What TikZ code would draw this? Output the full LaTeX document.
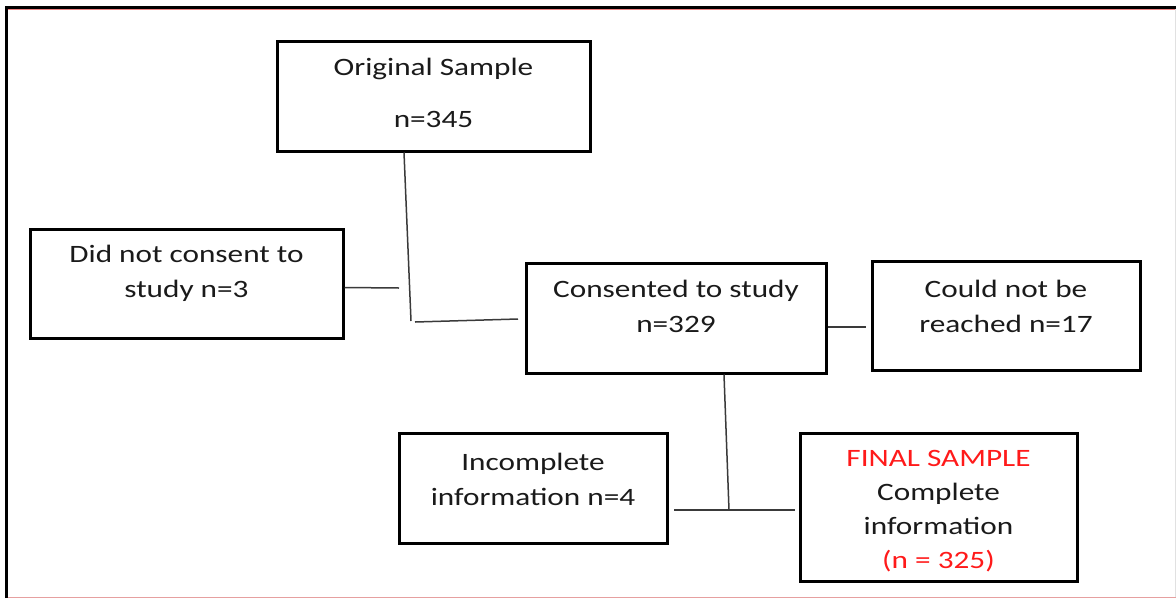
\documentclass[tikz,border=0pt]{standalone}
\usepackage{fontspec}
\setmainfont{Carlito}[FakeStretch=1.25]
\usetikzlibrary{calc}
\definecolor{txtc}{HTML}{1A1A1A}
\definecolor{linec}{HTML}{3A3A3A}
\definecolor{redc}{HTML}{FF1A1A}
\tikzset{
  box/.style={draw=black, line width=3pt, rectangle, inner sep=0pt},
  txt/.style={text=txtc, align=center, font=\fontsize{25}{35}\selectfont, inner sep=0pt},
  conn/.style={draw=linec, line width=1.5pt},
}
\begin{document}
\begin{tikzpicture}[x=1pt,y=-1pt]
\useasboundingbox (0,0) rectangle (1176,598);
% frame
\draw[black, line width=3pt] (6,598) -- (6,7) -- (1176,7);
\draw[color={rgb,255:red,240;green,130;blue,130}, line width=1pt] (7.5,9.5) -- (1176,9.5);
\draw[color={rgb,255:red,230;green,160;blue,160}, line width=1pt] (7.5,597) -- (1176,597);
\draw[color={rgb,255:red,225;green,225;blue,225}, line width=1pt] (1175,9) -- (1175,597);
% boxes
\node[box, minimum width=313pt, minimum height=110pt] (orig) at (433.5,96) {};
\node[box, minimum width=313pt, minimum height=109pt] (nocons) at (186.5,283.5) {};
\node[box, minimum width=300pt, minimum height=110pt] (cons) at (676,318) {};
\node[box, minimum width=268pt, minimum height=109pt] (reach) at (1006,315.5) {};
\node[box, minimum width=268pt, minimum height=110pt] (incomp) at (533,488) {};
\node[box, minimum width=277pt, minimum height=148pt] (final) at (938.5,507) {};
% texts
\node[txt] (t1a) at (433.5,69) {Original Sample};
\node[txt] (t1b) at (433.5,119) {n=345};
\node[txt] (t2) at (186.5,273) {Did not consent to\\study n=3};
\node[txt] (t3) at (676,306) {Consented to study\\n=329};
\node[txt] (t4) at (1006,306) {Could not be\\reached n=17};
\node[txt] (t5) at (533,479) {Incomplete\\information n=4};
\node[txt, font=\fontsize{25}{34}\selectfont] (t6) at (938.5,511) {\textcolor{redc}{FINAL SAMPLE}\\Complete\\information\\\textcolor{redc}{(n = 325)}};
% connectors
\coordinate (a2) at (411,321);
\coordinate (b1) at (399,288);
\coordinate (c1) at (415,322);
\coordinate (c2) at (518,319);
\coordinate (d1) at (866,327);
\coordinate (e1) at (729,510);
\coordinate (e2) at (674,510);
\coordinate (e3) at (795,510);
\draw[conn] ([xshift=-29.5pt]orig.south) -- (a2);
\draw[conn] ([yshift=-4pt]nocons.east) -- (b1);
\draw[conn] (c1) -- (c2);
\draw[conn] ([yshift=-9pt]cons.east) -- (d1);
\draw[conn] ([xshift=48pt]cons.south) -- (e1);
\draw[conn] (e2) -- (e3);
\end{tikzpicture}
\end{document}
